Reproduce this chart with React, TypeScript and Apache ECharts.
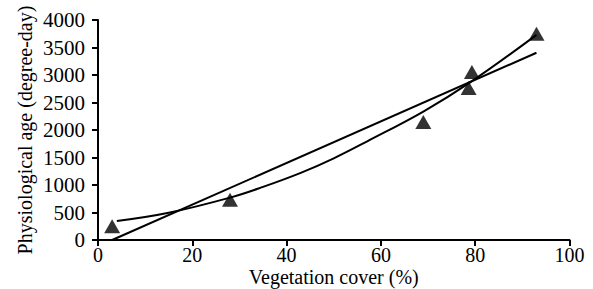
import React, { useEffect, useRef } from "react";
import * as echarts from "echarts";

const xTicks = [0, 20, 40, 60, 80, 100];
const obsX = [3, 28, 69, 78.6, 79.3, 93];
const obsY = [250, 733, 2145, 2764, 3054, 3751];
const linearX = [3, 93];
const linearY = [0, 3405];
const curveX = [4, 15, 28, 35, 43, 50, 57, 69, 79, 93];
const curveY = [345, 495, 770, 965, 1220, 1485, 1790, 2335, 2870, 3730];

const FONT = "'Liberation Serif', 'Times New Roman', serif";

export default function App() {
  const ref = useRef<HTMLDivElement>(null);
  useEffect(() => {
    if (!ref.current) return;
    const chart = echarts.init(ref.current, undefined, { renderer: "svg" });
    chart.setOption({
      animation: false,
      backgroundColor: "#ffffff",
      grid: { left: 98, right: 23.5, top: 20, bottom: 49, containLabel: false, outerBoundsMode: "none" },
      xAxis: {
        type: "value",
        min: xTicks[0],
        max: xTicks[xTicks.length - 1],
        interval: 20,
        name: "Vegetation cover (%)",
        nameLocation: "middle",
        nameGap: 27,
        nameMoveOverlap: false,
        nameTextStyle: { fontFamily: FONT, fontSize: 20, color: "#000", lineHeight: 20 },
        axisLine: { lineStyle: { color: "#000", width: 2 } },
        axisTick: { length: 6, lineStyle: { color: "#000", width: 2 } },
        axisLabel: { fontFamily: FONT, fontSize: 20, color: "#000", margin: 5, lineHeight: 19 },
        splitLine: { show: false },
      },
      yAxis: {
        type: "value",
        min: 0,
        max: 4000,
        interval: 500,
        name: "Physiological age (degree-day)",
        nameLocation: "middle",
        nameGap: 63,
        nameMoveOverlap: false,
        nameTextStyle: { fontFamily: FONT, fontSize: 20, color: "#000" },
        axisLine: { show: true, lineStyle: { color: "#000", width: 2 } },
        axisTick: { show: true, length: 6, lineStyle: { color: "#000", width: 2 } },
        axisLabel: { fontFamily: FONT, fontSize: 21, color: "#000", margin: 13, formatter: (v: number) => String(v) },
        splitLine: { show: false },
      },
      series: [
        {
          type: "line",
          data: linearX.map((x, i) => [x, linearY[i]]),
          symbol: "none",
          lineStyle: { color: "#000", width: 2 },
        },
        {
          type: "line",
          data: curveX.map((x, i) => [x, curveY[i]]),
          symbol: "none",
          smooth: 0.4,
          lineStyle: { color: "#000", width: 2 },
        },
        {
          type: "scatter",
          data: obsX.map((x, i) => [x, obsY[i]]),
          symbol: "triangle",
          symbolSize: [16, 14],
          itemStyle: { color: "#000" },
        },
      ],
    });
    return () => chart.dispose();
  }, []);
  return <div ref={ref} style={{ width: 593, height: 289, position: "absolute", left: 0, top: 0 }} />;
}
